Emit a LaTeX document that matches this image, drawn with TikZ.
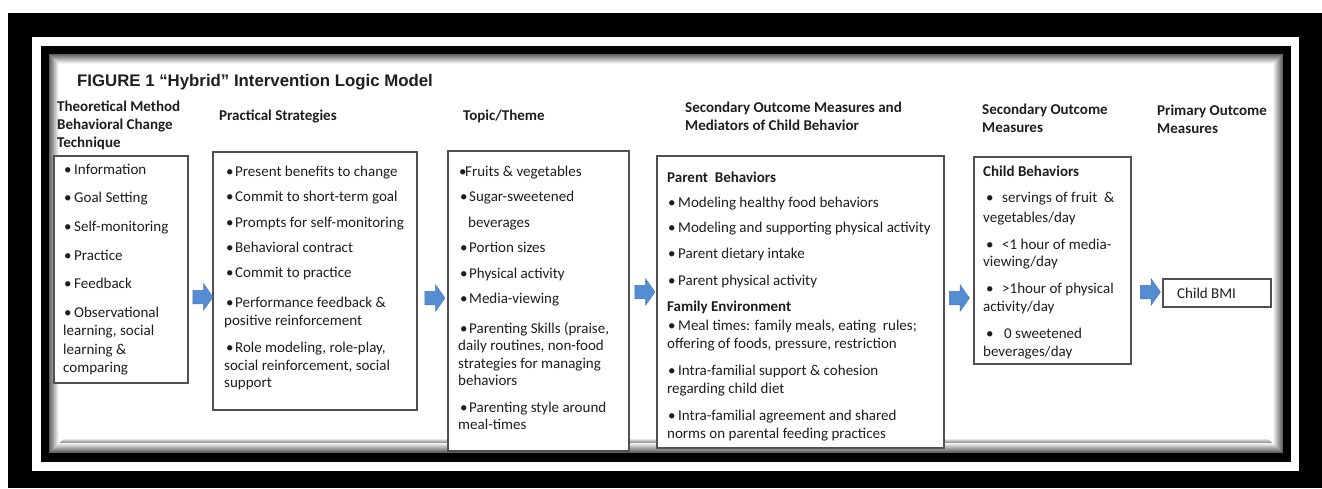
\documentclass[tikz,border=0pt]{standalone}
\usepackage{fontspec}
\setmainfont{Carlito}
\newfontfamily\titlefont{Liberation Sans}
\usetikzlibrary{shapes.arrows}

\definecolor{arrowblue}{RGB}{84,141,212}
\definecolor{arrowedge}{RGB}{70,120,190}
\definecolor{boxline}{RGB}{80,80,80}
\definecolor{ink}{RGB}{30,30,30}

% bullet with an indent and a fixed cell width
\newcommand\bl[2]{\hspace*{#1}\makebox[#2][l]{•}}

\begin{document}
\begin{tikzpicture}[x=1pt,y=-1pt,
  box/.style={draw=boxline, line width=1.2pt, fill=white, inner sep=0pt, outer sep=0pt, anchor=north west},
  body/.style={anchor=base west, inner sep=0pt, align=flush left, text=ink, font=\fontsize{15}{18}\selectfont},
  head/.style={body, font=\bfseries\fontsize{15}{18}\selectfont},
  blockarrow/.style={shape=single arrow, fill=arrowblue, draw=arrowedge, line width=0.5pt,
    inner sep=6.5pt, outer sep=0pt, single arrow head extend=6.5pt, single arrow tip angle=110,
    minimum height=20pt}
]
\useasboundingbox (0,0) rectangle (1322,488);

% frame: black border, thin white rule, inner black band
\fill[white] (0,0) rectangle (1322,488);
\fill[black] (8,13) rectangle (1322,488);
\fill[white] (32,37) rectangle (1299,471);
\fill[black] (40.7,45.7) rectangle (1291,462);
\fill[white] (49,54) rectangle (1282.7,453);
% soft inner shadow of the panel
\foreach \i [evaluate=\i as \lv using {62-6.5*\i}] in {0,...,9}
  \draw[line width=1.05pt, black!\lv] (49.5+\i,54.5+\i) rectangle (1282.2-\i,452.5-\i);
\foreach \i [evaluate=\i as \lv using {40-10*\i}] in {0,...,3}
  \draw[line width=1.05pt, black!\lv] (59.5+\i,442.5-\i) -- (1272.2-\i,442.5-\i);

% title
\node[anchor=base west, inner sep=0pt, text=ink, font=\titlefont\bfseries\fontsize{16.8}{20}\selectfont]
  (title) at (77,86) {FIGURE 1 “Hybrid” Intervention Logic Model};

% column headings
\node[head, text width=140] (h1) at (57,111) {Theoretical Method\\Behavioral Change\\Technique};
\node[head, text width=140] (h2) at (219,120) {Practical Strategies};
\node[head, text width=140] (h3) at (463,120) {Topic/Theme};
\node[head, text width=260] (h4) at (685,112) {Secondary Outcome Measures and\\Mediators of Child Behavior};
\node[head, text width=150] (h5) at (982,114) {Secondary Outcome\\Measures};
\node[head, text width=120] (h6) at (1157,115) {Primary Outcome\\Measures};

% boxes
\node[box, minimum width=134, minimum height=227] (b1) at (54,156) {};
\node[box, minimum width=204, minimum height=258] (b2) at (213,152) {};
\node[box, minimum width=181, minimum height=300] (b3) at (448,151) {};
\node[box, minimum width=287, minimum height=292] (b4) at (657,156) {};
\node[box, minimum width=157, minimum height=207] (b5) at (974,157) {};
\node[box, minimum width=108, minimum height=28] (b6) at (1163,279) {};

% box contents
\node[body, text width=140, font=\fontsize{15}{18.3}\selectfont] (t1) at (63,174) {%
\bl{1pt}{10pt}Information\\[10.4pt]
\bl{1pt}{10pt}Goal Setting\\[10.4pt]
\bl{1pt}{10pt}Self-monitoring\\[10.4pt]
\bl{1pt}{10pt}Practice\\[10.4pt]
\bl{1pt}{10pt}Feedback\\[10.4pt]
\bl{1pt}{10pt}Observational\\
learning, social\\
learning \&\\
comparing};

\node[body, text width=210, font=\fontsize{15}{17.7}\selectfont] (t2) at (224,176) {%
\bl{2pt}{9pt}Present benefits to change\\[8pt]
\bl{2pt}{9pt}Commit to short-term goal\\[8pt]
\bl{2pt}{9pt}Prompts for self-monitoring\\[7.5pt]
\bl{2pt}{9pt}Behavioral contract\\[7.5pt]
\bl{2pt}{9pt}Commit to practice\\[12.3pt]
\bl{2pt}{9pt}Performance feedback \&\\
positive reinforcement\\[9.3pt]
\bl{2pt}{9pt}Role modeling, role-play,\\
social reinforcement, social\\
support};

\node[body, text width=190, font=\fontsize{15}{17.3}\selectfont] (t3) at (458,176) {%
\bl{1pt}{6pt}Fruits \& vegetables\\[8pt]
\bl{2pt}{9pt}Sugar-sweetened\\[8.5pt]
\hspace*{10pt}beverages\\[7.8pt]
\bl{2pt}{9pt}Portion sizes\\[8.5pt]
\bl{2pt}{9pt}Physical activity\\[8.5pt]
\bl{2pt}{9pt}Media-viewing\\[12.5pt]
\bl{2pt}{9pt}Parenting Skills (praise,\\
daily routines, non-food\\
strategies for managing\\
behaviors\\[9.7pt]
\bl{2pt}{9pt}Parenting style around\\
meal-times};

\node[body, text width=300, font=\fontsize{15}{18}\selectfont] (t4) at (667,182) {%
\textbf{Parent~ Behaviors}\\[7pt]
\bl{1pt}{10pt}Modeling healthy food behaviors\\[7pt]
\bl{1pt}{10pt}Modeling and supporting physical activity\\[8pt]
\bl{1pt}{10pt}Parent dietary intake\\[9pt]
\bl{1pt}{10pt}Parent physical activity\\[8pt]
\textbf{Family Environment}\\[1pt]
\bl{1pt}{10pt}Meal times: family meals, eating~ rules;\\
offering of foods, pressure, restriction\\[9pt]
\bl{1pt}{10pt}Intra-familial support \& cohesion\\
regarding child diet\\[9pt]
\bl{1pt}{10pt}Intra-familial agreement and shared\\
norms on parental feeding practices};

\node[body, text width=170, font=\fontsize{15}{17.5}\selectfont] (t5) at (983,176) {%
\textbf{Child Behaviors}\\[8.5pt]
\bl{3pt}{16pt}servings of fruit~ \&\\[2.5pt]
vegetables/day\\[9.5pt]
\bl{3pt}{16pt}<1 hour of media-\\
viewing/day\\[9.5pt]
\bl{3pt}{16pt}>1hour of physical\\
activity/day\\[9.5pt]
\bl{3pt}{18pt}0 sweetened\\[0.5pt]
beverages/day};

\node[body] (t6) at (1177,298) {Child BMI};

% block arrows between the stages
\node[blockarrow] (a1) at (200.5,297) {};
\node[blockarrow] (a2) at (432.5,298) {};
\node[blockarrow] (a3) at (642.5,292) {};
\node[blockarrow] (a4) at (957,298) {};
\node[blockarrow] (a5) at (1148,292) {};
\end{tikzpicture}
\end{document}
